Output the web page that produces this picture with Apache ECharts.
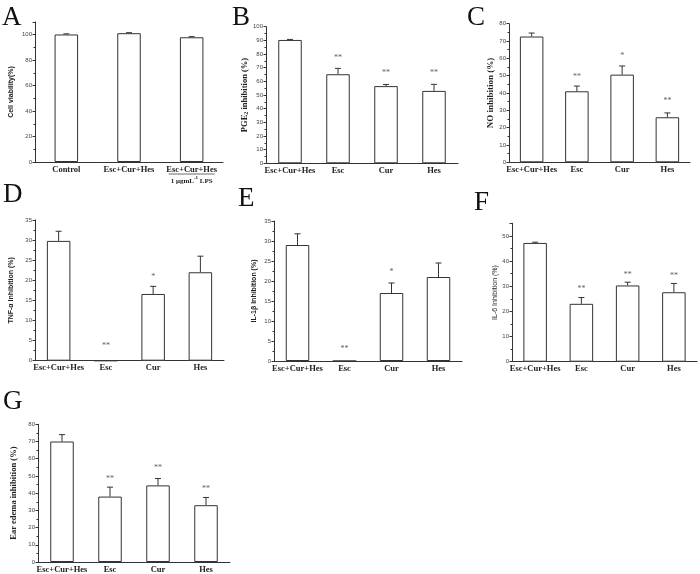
<!DOCTYPE html>
<html>
<head>
<meta charset="utf-8">
<script src="https://cdn.jsdelivr.net/npm/echarts@6.0.0/dist/echarts.min.js"></script>
<style>html,body{margin:0;padding:0;background:#fff}#c{width:700px;height:574px}</style>
</head>
<body>
<div id="c"></div>
<script>
// ---- data ----
const catsA = ['Control', 'Esc+Cur+Hes', 'Esc+Cur+Hes\n1 μgmL^-1 LPS'];
const valsA = [100.2, 101.2, 98.0];
const errA  = [0.5, 0.4, 0.5];
const starsA = ['', '', ''];
const starYA = [null, null, null];

const cats4 = ['Esc+Cur+Hes', 'Esc', 'Cur', 'Hes'];

const valsB = [90.3, 65.2, 56.5, 53.0];
const errB  = [0.4, 4.3, 1.2, 4.8];
const starsB = ['', '**', '**', '**'];
const starYB = [null, 78.5, 67.5, 67.5];

const valsC = [72.6, 41.0, 50.6, 26.0];
const errC  = [2.0, 3.0, 5.0, 2.5];
const starsC = ['', '**', '*', '**'];
const starYC = [null, 50.5, 62.4, 36.4];

const valsD = [29.8, 0, 16.6, 22.0];
const errD  = [2.4, 0, 1.9, 4.0];
const starsD = ['', '**', '*', ''];
const starYD = [null, 4.1, 21.3, null];

const valsE = [29.0, 0, 17.0, 21.0];
const errE  = [2.8, 0, 2.5, 3.5];
const starsE = ['', '**', '*', ''];
const starYE = [null, 3.4, 22.7, null];

const valsF = [47.2, 23.0, 30.3, 27.6];
const errF  = [0.3, 2.5, 1.3, 3.5];
const starsF = ['', '**', '**', '**'];
const starYF = [null, 29.8, 35.4, 34.8];

const valsG = [70.0, 38.0, 44.5, 33.0];
const errG  = [4.0, 5.5, 4.0, 4.5];
const starsG = ['', '**', '**', '**'];
const starYG = [null, 49.7, 55.9, 43.9];

const yMax = [110, 100, 80, 35, 35, 55, 80];
const yInterval = [20, 10, 10, 5, 5, 10, 10];
const yNames = ['Cell viability(%)', 'PGE{sub|2} inhibition (%)', 'NO inhibition (%)',
  'TNF-α Inhibition (%)', 'IL-1β Inhibition (%)', 'IL-6 Inhibition (%)', 'Ear edema inhibition (%)'];
const letters = ['A', 'B', 'C', 'D', 'E', 'F', 'G'];

// ---- layout ----
const grids = [
  {left: 35, top: 22, width: 188, height: 140},
  {left: 266, top: 26.7, width: 192, height: 136.6},
  {left: 509, top: 23.7, width: 181, height: 138.6},
  {left: 35, top: 220, width: 189, height: 140.7},
  {left: 274, top: 221, width: 188, height: 140},
  {left: 512, top: 223.3, width: 185, height: 138.4},
  {left: 38, top: 424.3, width: 192, height: 138.4}
];
const letterPos = [[2, 4], [232, 4], [467, 4], [3, 181], [238, 185], [474, 189], [3, 388]];
const nameGaps = [20, 16, 11, 20, 16, 13, 20];
const nameFonts = [
  {fontFamily: 'Liberation Sans, Arial', fontWeight: 'bold', fontSize: 7},
  {fontFamily: 'Liberation Serif, Times New Roman', fontWeight: 'bold', fontSize: 8.5},
  {fontFamily: 'Liberation Serif, Times New Roman', fontWeight: 'bold', fontSize: 9},
  {fontFamily: 'Liberation Sans, Arial', fontWeight: 'bold', fontSize: 7},
  {fontFamily: 'Liberation Sans, Arial', fontWeight: 'bold', fontSize: 7},
  {fontFamily: 'Liberation Sans, Arial', fontWeight: 'normal', fontSize: 7},
  {fontFamily: 'Liberation Serif, Times New Roman', fontWeight: 'bold', fontSize: 8.5}
];

const panels = [
  [catsA, valsA, errA, starsA, starYA],
  [cats4, valsB, errB, starsB, starYB],
  [cats4, valsC, errC, starsC, starYC],
  [cats4, valsD, errD, starsD, starYD],
  [cats4, valsE, errE, starsE, starYE],
  [cats4, valsF, errF, starsF, starYF],
  [cats4, valsG, errG, starsG, starYG]
];

const ink = '#333';
const serif = 'Liberation Serif, Times New Roman, serif';

function catFormatter(v) {
  if (v.indexOf('\n') < 0) return '{a|' + v + '}';
  const parts = v.split('\n');
  const sec = parts[1].split('^');
  const m = sec[1].match(/^(-?\d+)(.*)$/);
  return '{a|' + parts[0] + '}\n{b|' + sec[0] + '}{s|' + m[1] + '}{b|' + m[2] + '}';
}

const xAxes = [], yAxes = [], series = [], titles = [];
panels.forEach((p, i) => {
  const [cats, vals, errs, stars, starY] = p;
  xAxes.push({
    type: 'category', gridIndex: i, data: cats,
    axisLine: {lineStyle: {color: ink, width: 1}},
    axisTick: {show: false},
    axisLabel: {
      interval: 0, margin: 2, formatter: catFormatter,
      rich: {
        a: {fontFamily: serif, fontWeight: 'bold', fontSize: 8.5, color: '#222', lineHeight: 11},
        b: {fontFamily: serif, fontWeight: 'bold', fontSize: 7, color: '#222', lineHeight: 12},
        s: {fontFamily: serif, fontWeight: 'bold', fontSize: 5, color: '#222', lineHeight: 12, verticalAlign: 'top'}
      }
    }
  });
  yAxes.push({
    type: 'value', gridIndex: i, min: 0, max: yMax[i], interval: yInterval[i],
    name: yNames[i], nameLocation: 'middle', nameGap: nameGaps[i], nameRotate: 90,
    nameTextStyle: Object.assign({color: '#222', rich: {sub: {fontFamily: serif, fontWeight: 'bold', fontSize: 6, verticalAlign: 'bottom'}}}, nameFonts[i]),
    axisLine: {show: true, lineStyle: {color: ink, width: 1}},
    axisTick: {show: true, length: 2.5, lineStyle: {color: ink}},
    minorTick: {show: true, splitNumber: 2, length: 1.5, lineStyle: {color: ink}},
    splitLine: {show: false},
    axisLabel: {fontFamily: 'Liberation Sans, Arial', fontSize: 6, color: '#444', margin: 3, showMaxLabel: yMax[i] % yInterval[i] === 0}
  });
  series.push({
    type: 'bar', xAxisIndex: i, yAxisIndex: i, data: vals, barWidth: 23.5,
    itemStyle: {color: '#fff', borderColor: ink, borderWidth: 1},
    silent: true, animation: false
  });
  series.push({
    type: 'custom', xAxisIndex: i, yAxisIndex: i, animation: false, silent: true,
    data: vals.map((v, j) => [j, v, errs[j]]),
    renderItem: function (params, api) {
      const e = api.value(2);
      if (!e) return null;
      const x = api.value(0), y = api.value(1);
      const p0 = api.coord([x, y]);
      const p1 = api.coord([x, y + e]);
      const st = {stroke: ink, lineWidth: 1};
      return {
        type: 'group', children: [
          {type: 'line', shape: {x1: p0[0], y1: p0[1], x2: p1[0], y2: p1[1]}, style: st},
          {type: 'line', shape: {x1: p1[0] - 3, y1: p1[1], x2: p1[0] + 3, y2: p1[1]}, style: st}
        ]
      };
    }
  });
  series.push({
    type: 'scatter', xAxisIndex: i, yAxisIndex: i, animation: false, silent: true,
    symbolSize: 1, itemStyle: {color: 'rgba(0,0,0,0)'},
    data: stars.map((s, j) => s ? [j, starY[j], s] : null).filter(d => d),
    label: {
      show: true, position: 'inside', offset: [0, 2],
      formatter: (d) => d.value[2],
      fontFamily: serif, fontSize: 8, color: ink
    }
  });
  titles.push({
    text: letters[i], left: letterPos[i][0], top: letterPos[i][1], padding: 0,
    textStyle: {fontFamily: serif, fontWeight: 'normal', fontSize: 27, color: '#111'}
  });
});

const chart = echarts.init(document.getElementById('c'), null, {renderer: 'canvas'});
chart.setOption({
  animation: false,
  backgroundColor: '#fff',
  title: titles,
  grid: grids,
  xAxis: xAxes,
  yAxis: yAxes,
  series: series
});
// fraction-style rule under the first line of panel A's third label
const cx = chart.convertToPixel({xAxisIndex: 0}, catsA[2]);
const by = chart.convertToPixel({yAxisIndex: 0}, 0);
chart.setOption({
  graphic: [{type: 'line', shape: {x1: cx - 23, y1: by + 12, x2: cx + 23, y2: by + 12}, style: {stroke: '#444', lineWidth: 0.8}}]
});
</script>
</body>
</html>
